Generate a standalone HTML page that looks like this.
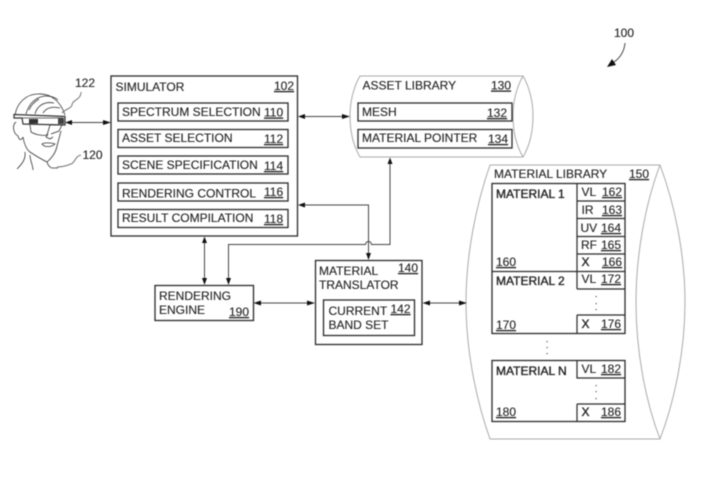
<!DOCTYPE html>
<html><head><meta charset="utf-8"><style>
html,body{margin:0;padding:0;background:#fff;width:708px;height:493px;overflow:hidden}
svg{display:block;filter:blur(.4px)}
text{font-family:"Liberation Sans",sans-serif;font-size:12px;fill:#222;stroke:#222;stroke-width:.12}
.u{text-decoration:underline}
.b{stroke:#2a2a2a;stroke-width:1.3;fill:#fff}
.l{stroke:#444;stroke-width:1;fill:none}
.g{stroke:#aaa;stroke-width:1;fill:none}
.h{stroke:#333;stroke-width:.8;fill:none}
.a{fill:#111}
.m{stroke:#222;stroke-width:.35}
</style></head><body>
<svg width="708" height="493" viewBox="0 0 708 493" xmlns="http://www.w3.org/2000/svg">
<rect width="708" height="493" fill="#fff"/>

<!-- head -->
<path class="h" d="M15 115C17 103 26 94 38 94C51 93 61 102 65 115"/>
<path class="h" d="M26 114C29 103 36 97 45 96C50 96 55 97 58 100M35 114C37 106 44 101 54 103M43 113C46 108 52 106 60 108M29 110C31 105 34 102 39 99"/>
<path class="h" style="stroke-width:1.2" d="M14 114.500L65 116.500L65 125L23 124L22 118L14 118Z"/>
<path class="h" d="M22 118H63"/>
<path class="h" d="M30 125L31 132C36 135 43 136 47 135L50 125M50 125L62 125L59 131L51 134"/>
<rect x="29" y="119" width="9" height="4.500" fill="#333"/>
<rect x="58" y="118" width="6" height="6" fill="#444"/>
<path class="h" d="M16 122C12 125 13 133 18 136C19 140 21 141 23 137M23 137C24 144 27 150 30 152C36 156 43 160 47 162C52 158 56 152 57 146L61 131"/>
<path class="h" d="M48 134L46 137L50 139L53 137M42 144C45 142 52 143 55 144C52 147 45 148 42 144Z"/>
<path class="h" d="M25 152C26 159 22 164 17 169M30 155C30 161 33 165 33 170M47 162C48 165 49 167 52 168C54 168 56 168 58 168"/>
<path class="g" d="M81 92C81 100 72 100 72 105C71 109 65 109 62 113" style="stroke:#777"/>
<path class="g" d="M81 155C75 156 75 163 71 164C66 166 62 167 57 167" style="stroke:#777"/>
<text x="75" y="87">122</text>
<text x="82.500" y="159">120</text>

<!-- 100 -->
<text x="614" y="37">100</text>
<path class="l" d="M625 43C624 54 618 60 611 64"/>
<polygon class="a" points="607,67 612,59 616,65"/>

<!-- asset library -->
<path class="g" d="M360 76L523 76C530 88 533 103 533 116C533 130 530 145 523 157L360 157C353 145 350 130 350 116C350 103 353 88 360 76Z"/>
<path class="g" d="M523 76C516 88 513 103 513 116C513 130 516 145 523 157"/>
<rect class="b" x="358" y="103" width="154" height="18"/>
<rect class="b" x="358" y="129.500" width="154" height="18.500"/>
<text x="362.500" y="89.500">ASSET LIBRARY</text><text class="u" x="491" y="89.500">130</text>
<text x="362" y="116">MESH</text><text class="u" x="487" y="117">132</text>
<text x="362" y="142">MATERIAL POINTER</text><text class="u" x="488" y="143">134</text>

<!-- material library -->
<path class="g" d="M490 165L660 165C675 205 685 255 685 302C685 350 675 400 660 439L490 439C476 400 466 350 466 302C466 255 476 205 490 165Z"/>
<path class="g" d="M660 165C645 205 636 255 636 302C636 350 645 400 660 439"/>
<text x="494" y="178">MATERIAL LIBRARY</text><text class="u" x="629" y="178">150</text>
<rect class="b" x="492" y="183.500" width="133" height="150"/>
<rect class="b" x="492" y="360.500" width="133" height="61"/>
<path class="l" style="stroke:#2a2a2a;stroke-width:1.2" d="M577 183.500V289M577 201H625M577 218.500H625M577 236.500H625M577 254H625M492 271.500H625M577 289H625M577 315V333.500M577 315H625M577 360.500V378H625M577 404V421.500M577 404H625"/>
<text class="m" x="496" y="198">MATERIAL 1</text>
<text x="581.500" y="196">VL</text><text class="u" x="602" y="196">162</text>
<text x="581.500" y="214">IR</text><text class="u" x="602" y="214">163</text>
<text x="580.500" y="232">UV</text><text class="u" x="601" y="232">164</text>
<text x="581" y="249">RF</text><text class="u" x="601" y="249">165</text>
<text class="m" x="581.500" y="266">X</text><text class="u" x="602" y="266">166</text>
<text class="u" x="496" y="266">160</text>
<text class="m" x="496" y="285">MATERIAL 2</text>
<text x="581.500" y="283">VL</text><text class="u" x="601" y="283">172</text>
<text class="u" x="496" y="329">170</text>
<text class="m" x="581.500" y="328">X</text><text class="u" x="601" y="328">176</text>
<text class="m" x="496" y="375">MATERIAL N</text>
<text x="581.500" y="373">VL</text><text class="u" x="601" y="373">182</text>
<text class="u" x="496" y="416">180</text>
<text class="m" x="581.500" y="416">X</text><text class="u" x="601" y="416">186</text>
<g fill="#555">
<rect x="595.500" y="296" width="1.200" height="1.200"/><rect x="595.500" y="303" width="1.200" height="1.200"/><rect x="595.500" y="309" width="1.200" height="1.200"/>
<rect x="546.500" y="341" width="1.200" height="1.200"/><rect x="546.500" y="347" width="1.200" height="1.200"/><rect x="546.500" y="353" width="1.200" height="1.200"/>
<rect x="595.500" y="385" width="1.200" height="1.200"/><rect x="595.500" y="391" width="1.200" height="1.200"/><rect x="595.500" y="398" width="1.200" height="1.200"/>
</g>

<!-- simulator -->
<rect class="b" x="111" y="76" width="186.500" height="160"/>
<text x="115.500" y="91">SIMULATOR</text><text class="u" x="274" y="90">102</text>
<rect class="b" x="118" y="103" width="170" height="18"/>
<rect class="b" x="118" y="129.500" width="170" height="18"/>
<rect class="b" x="118" y="156" width="170" height="18"/>
<rect class="b" x="118" y="183" width="170" height="18"/>
<rect class="b" x="118" y="209.500" width="170" height="18"/>
<text x="122" y="116">SPECTRUM SELECTION</text><text class="u" x="264" y="116.500">110</text>
<text x="122" y="142">ASSET SELECTION</text><text class="u" x="264" y="143">112</text>
<text x="122" y="169">SCENE SPECIFICATION</text><text class="u" x="264" y="170">114</text>
<text x="122" y="197.500">RENDERING CONTROL</text><text class="u" x="264" y="196">116</text>
<text x="122" y="222">RESULT COMPILATION</text><text class="u" x="264" y="223">118</text>

<!-- rendering engine -->
<rect class="b" x="155" y="285.500" width="98.500" height="35"/>
<text x="159" y="300">RENDERING</text><text x="159" y="314">ENGINE</text><text class="u" x="229" y="316">190</text>

<!-- translator -->
<rect class="b" x="315.500" y="260.500" width="106.500" height="84"/>
<rect class="b" x="323.500" y="300" width="91" height="35.500"/>
<text x="319" y="275">MATERIAL</text><text x="319" y="289">TRANSLATOR</text><text class="u" x="398" y="272">140</text>
<text x="328.500" y="315">CURRENT</text><text x="328.500" y="329">BAND SET</text><text class="u" x="390.500" y="313">142</text>

<!-- connectors -->
<path class="l" d="M70 122.500H106M302 116.500H345M204.500 241V280M228.500 280V244.500H365.500A3 3 0 0 1 371.500 244.500H390V163M303 205H368.500V255M258 303H310M427 303H462"/>
<g class="a">
<polygon points="65,122.500 72,120 72,125"/><polygon points="111,122.500 103,120 103,125"/>
<polygon points="298,116.500 305,114 305,119"/><polygon points="350,116.500 342,114 342,119"/>
<polygon points="204.500,236.500 202,243 207,243"/><polygon points="204.500,285 202,278 207,278"/>
<polygon points="228.500,285 226,278 231,278"/>
<polygon points="390,157.500 387.500,164 392.500,164"/>
<polygon points="298,205 305,202.500 305,207.500"/>
<polygon points="368.500,260 366,253 371,253"/>
<polygon points="253.500,303 261,300.500 261,305.500"/><polygon points="315,303 307,300.500 307,305.500"/>
<polygon points="422.500,303 430,300.500 430,305.500"/><polygon points="467,303 459,300.500 459,305.500"/>
</g>
</svg>
</body></html>
